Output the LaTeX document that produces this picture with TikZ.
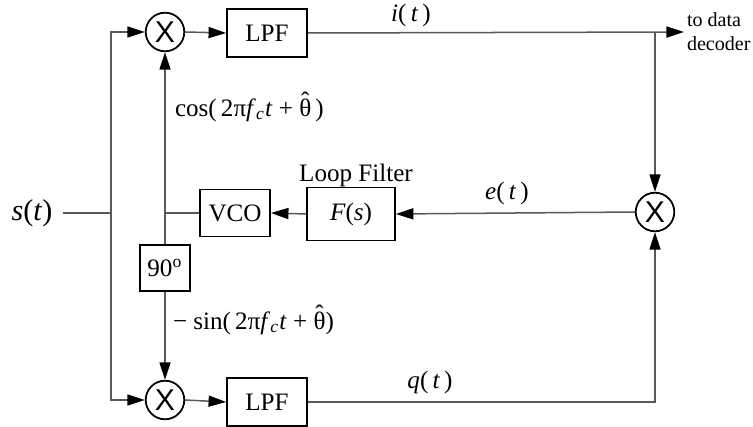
\documentclass[tikz,border=0pt]{standalone}
\usepackage{fontspec}
\setmainfont{Liberation Serif}
\newfontfamily\mixfont{Liberation Sans}
\usetikzlibrary{arrows.meta,positioning}
\newcommand{\thetahat}{\ooalign{θ\cr\hidewidth\raisebox{0.28em}{ˆ}\hidewidth\cr}}

\begin{document}
\begin{tikzpicture}[x=0.014cm, y=-0.014cm,
    >={Triangle[length=7pt,width=4.4pt,color=black]},
    wire/.style={draw=black!65, line width=0.6pt},
    block/.style={draw, line width=0.7pt, inner sep=0pt, minimum height=0.67cm},
    mixer/.style={draw, circle, line width=0.7pt, inner sep=0pt, minimum size=0.54cm, font=\mixfont\large},
    lbl/.style={inner sep=1pt}]
  \useasboundingbox (0,0) rectangle (753,427);

  % 上下两路：乘法器与低通
  \node[mixer] (mulI) at (165,32) {X};
  \node[block, minimum width=1.12cm] (lpfI) at (267,33) {LPF};
  \node[mixer] (mulQ) at (165,400) {X};
  \node[block, minimum width=1.12cm] (lpfQ) at (267,402) {LPF};

  % 环路：鉴相、环路滤波、VCO、移相
  \node[mixer] (mulE) at (655,212) {X};
  \node[block, minimum width=1.23cm, minimum height=0.74cm] (filt) at (351,214) {\textit{F}(\textit{s})};
  \node[lbl] (filtname) at (356,175) {Loop Filter};
  \node[block, minimum width=0.98cm, minimum height=0.66cm] (vco) at (235,213) {VCO};
  \node[block, minimum width=0.69cm, minimum height=0.64cm] (shift) at (165,268) {90\textsuperscript{o}};

  % 输入与输出
  \node[inner sep=4pt, font=\large] (sig) at (32,213) {\textit{s}(\textit{t})};
  \coordinate (split) at (111,213);
  \coordinate (tap) at (655,32);
  \coordinate (out) at (684,32);
  \node[anchor=west, align=left, font=\footnotesize, inner sep=1pt] (dec) at (out) {to data\\decoder};

  % 连线
  \draw[wire] (sig.east) -- (split);
  \draw[wire, ->] (split) |- (mulI.west);
  \draw[wire, ->] (split) |- (mulQ.west);
  \draw[wire, ->] (mulI.east) -- (lpfI.west);
  \draw[wire, ->] (mulQ.east) -- (lpfQ.west);
  \draw[wire, ->] (lpfI.east) -- (out);
  \draw[wire, ->] (tap) -- (mulE.north);
  \draw[wire, ->] (lpfQ.east) -| (mulE.south);
  \draw[wire, ->] (mulE.west) -- (filt.east);
  \draw[wire, ->] (filt.west) -- (vco.east);
  \draw[wire] (vco.west) -- (vco.west -| shift.north);
  \draw[wire, ->] (shift.north) -- (mulI.south);
  \draw[wire, ->] (shift.south) -- (mulQ.north);

  % 信号标注
  \node[lbl] (iname) at (411,15) {\textit{i}(\,\textit{t}\,)};
  \node[lbl] (ename) at (507,193) {\textit{e}(\,\textit{t}\,)};
  \node[lbl] (qname) at (430,382) {\textit{q}(\,\textit{t}\,)};
  \node[lbl, anchor=west] (cosname) at (172,110) {cos(\,2π\textit{f}\textsubscript{\textit{c}}\textit{t} + \thetahat\,)};
  \node[lbl, anchor=west] (sinname) at (170,323) {− sin(\,2π\textit{f}\textsubscript{\textit{c}}\textit{t} + \thetahat)};
\end{tikzpicture}
\end{document}
